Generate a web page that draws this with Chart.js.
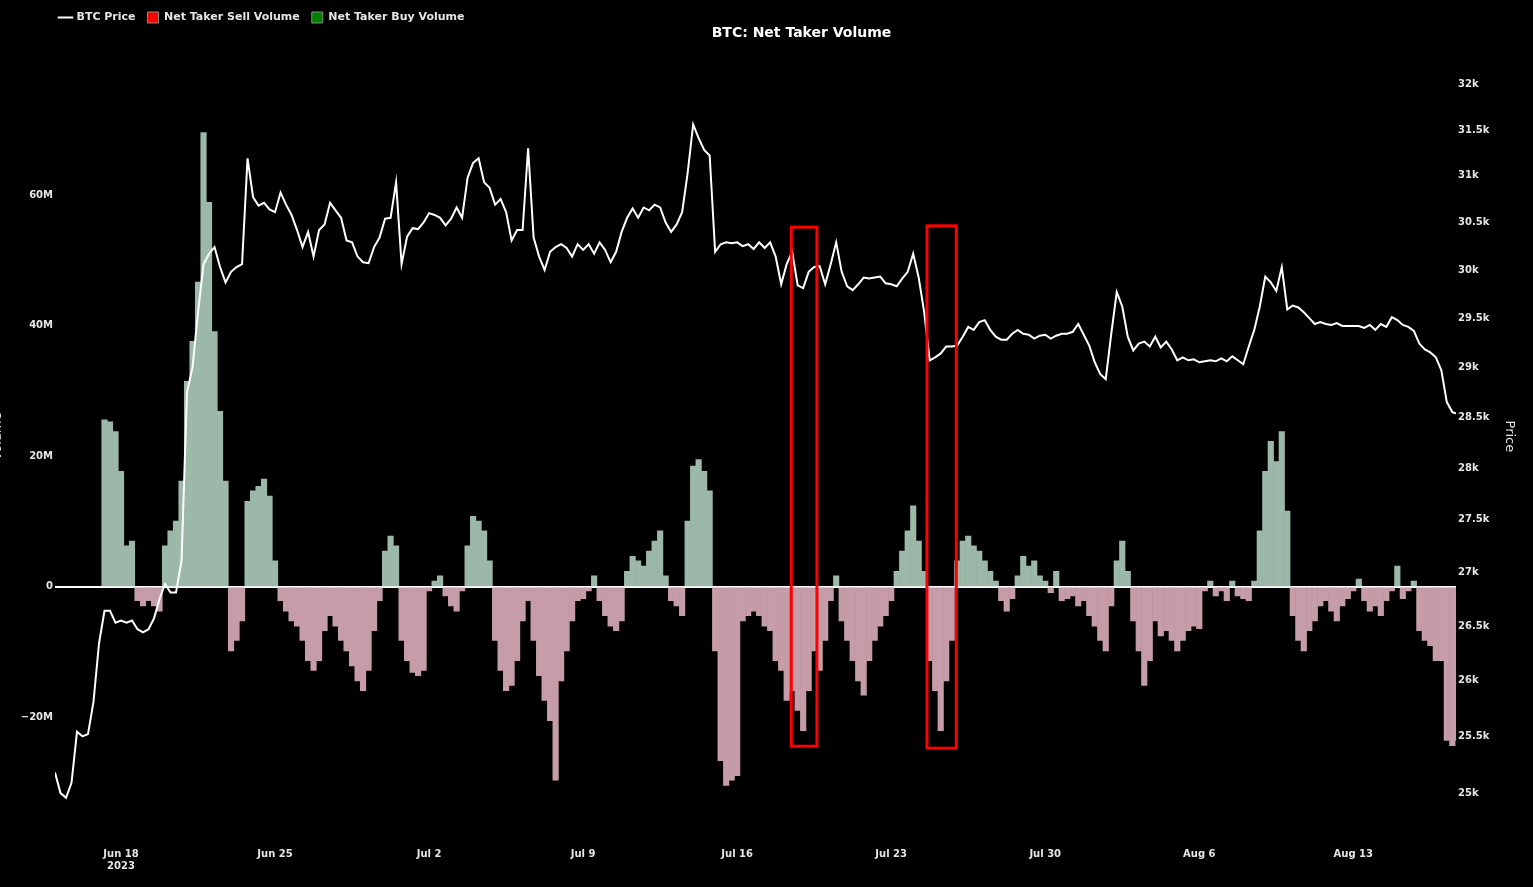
<!DOCTYPE html>
<html>
<head>
<meta charset="utf-8">
<script src="https://cdn.jsdelivr.net/npm/chart.js@4"></script>
<style>
  html, body { margin: 0; padding: 0; background: #000; }
  #wrap { width: 1533px; height: 887px; }
</style>
</head>
<body>
<div id="wrap"><canvas id="netTakerChart" width="1533" height="887"></canvas></div>
<script>
  // 6-hour samples starting Jun 15 2023 00:00 (x in hours)
  var stepHours = 6;
  var btcPrice = [25.18,25.0,24.96,25.09,25.54,25.50,25.52,25.81,26.34,26.64,26.64,26.53,26.55,26.53,26.55,26.47,26.44,26.47,26.57,26.75,
    26.89,26.81,26.81,27.11,28.75,29.0,29.56,30.06,30.17,30.24,30.03,29.87,29.98,30.03,30.06,31.19,30.77,30.68,30.71,30.64,
    30.61,30.82,30.69,30.58,30.42,30.24,30.40,30.14,30.42,30.48,30.71,30.63,30.55,30.31,30.29,30.14,30.08,30.07,30.24,30.34,
    30.54,30.55,30.93,30.06,30.35,30.44,30.43,30.50,30.60,30.58,30.55,30.47,30.54,30.66,30.55,30.98,31.14,31.19,30.93,30.87,
    30.69,30.75,30.61,30.31,30.42,30.42,31.30,30.34,30.14,30.0,30.19,30.24,30.27,30.23,30.14,30.27,30.21,30.27,30.17,30.29,
    30.21,30.08,30.19,30.40,30.55,30.65,30.55,30.66,30.63,30.69,30.66,30.50,30.40,30.48,30.61,31.03,31.56,31.41,31.28,31.22,
    30.19,30.27,30.29,30.28,30.29,30.25,30.27,30.22,30.29,30.23,30.29,30.14,29.85,30.06,30.19,29.84,29.81,29.98,30.03,30.04,
    29.85,30.06,30.29,29.98,29.83,29.79,29.85,29.92,29.91,29.92,29.93,29.86,29.85,29.83,29.91,29.98,30.17,29.92,29.56,29.07,
    29.10,29.14,29.21,29.21,29.22,29.31,29.41,29.38,29.46,29.48,29.38,29.31,29.28,29.28,29.34,29.38,29.34,29.33,29.29,29.32,
    29.33,29.29,29.32,29.34,29.34,29.36,29.44,29.33,29.22,29.05,28.93,28.88,29.34,29.77,29.62,29.31,29.17,29.24,29.26,29.21,
    29.31,29.20,29.26,29.18,29.07,29.10,29.07,29.08,29.05,29.06,29.07,29.06,29.09,29.06,29.11,29.07,29.03,29.21,29.38,29.62,
    29.93,29.87,29.78,30.03,29.59,29.63,29.61,29.56,29.50,29.44,29.46,29.44,29.43,29.45,29.42,29.42,29.42,29.42,29.40,29.43,
    29.38,29.44,29.41,29.51,29.48,29.43,29.41,29.37,29.24,29.18,29.15,29.10,28.97,28.65,28.55,28.53];
  // net taker volume, millions (buy > 0, sell < 0)
  var netVolume = [0,0,0,0,0,0,0,0,0,25.6,25.3,23.8,17.7,6.3,7.0,-2.1,-2.9,-2.1,-2.9,-3.7,
    6.3,8.6,10.1,16.2,31.5,37.6,46.7,69.6,58.9,39.1,26.9,16.2,-9.8,-8.2,-5.2,13.1,14.7,15.4,16.5,13.9,
    4.0,-2.1,-3.7,-5.2,-6.0,-8.2,-11.3,-12.8,-11.3,-6.7,-4.4,-6.0,-8.2,-9.8,-12.1,-14.4,-15.9,-12.8,-6.7,-2.1,
    5.5,7.8,6.3,-8.2,-11.3,-13.1,-13.6,-12.8,-0.6,0.9,1.7,-1.4,-2.9,-3.7,-0.6,6.3,10.8,10.1,8.6,4.0,
    -8.2,-12.8,-15.9,-15.1,-11.3,-5.2,-2.1,-8.2,-13.6,-17.4,-20.5,-29.6,-14.4,-9.8,-5.2,-2.1,-1.8,-0.6,1.7,-2.1,
    -4.4,-6.0,-6.7,-5.2,2.4,4.7,4.0,3.2,5.5,7.0,8.6,1.7,-2.1,-2.9,-4.4,10.1,18.5,19.5,17.7,14.7,
    -9.8,-26.6,-30.4,-29.6,-28.9,-5.2,-4.4,-3.7,-4.4,-6.0,-6.7,-11.3,-12.8,-17.4,-15.9,-18.9,-22.0,-15.9,-9.8,-12.8,
    -8.2,-2.1,1.7,-5.2,-8.2,-11.3,-14.4,-16.6,-11.3,-8.2,-6.0,-4.4,-2.1,2.4,5.5,8.6,12.4,7.0,2.4,-11.3,
    -15.9,-22.0,-14.4,-8.2,4.0,7.0,7.8,6.3,5.5,4.0,2.4,0.9,-2.1,-3.7,-1.8,1.7,4.7,3.2,4.0,1.7,
    0.9,-0.9,2.4,-2.1,-1.8,-1.4,-2.9,-2.1,-4.4,-6.0,-8.2,-9.8,-2.9,4.0,7.0,2.4,-5.2,-9.8,-15.1,-11.3,
    -5.2,-7.5,-6.7,-8.2,-9.8,-8.2,-6.7,-6.0,-6.4,-0.6,0.9,-1.4,-0.6,-2.1,0.9,-1.4,-1.8,-2.1,0.9,8.6,
    17.7,22.3,19.2,23.8,11.6,-4.4,-8.2,-9.8,-6.7,-5.2,-2.9,-2.1,-3.7,-5.2,-2.9,-1.8,-0.6,1.2,-2.1,-3.7,
    -2.9,-4.4,-2.1,-0.6,3.2,-1.8,-0.6,0.9,-6.7,-8.2,-9.0,-11.3,-11.3,-23.5,-24.3,-23.5];
  var tickHours = [72, 240, 408, 576, 744, 912, 1080, 1248, 1416];
  var tickLabels = [['Jun 18', '2023'], 'Jun 25', 'Jul 2', 'Jul 9', 'Jul 16', 'Jul 23', 'Jul 30', 'Aug 6', 'Aug 13'];
  var priceTicks = [25000, 25500, 26000, 26500, 27000, 27500, 28000, 28500, 29000, 29500, 30000, 30500, 31000, 31500, 32000];
  // highlighted windows: [startHour, endHour, topM, bottomM]
  var boxStart = [803, 951];
  var boxEnd = [831, 983];
  var boxTop = [55.1, 55.3];
  var boxBottom = [-24.4, -24.7];

  var pricePts = btcPrice.map(function (v, i) { return { x: i * stepHours, y: v * 1000 }; });
  var sellPts = netVolume.map(function (v, i) { return { x: i * stepHours, y: v < 0 ? v * 1e6 : null }; });
  var buyPts = netVolume.map(function (v, i) { return { x: i * stepHours, y: v > 0 ? v * 1e6 : null }; });

  var font = "'DejaVu Sans', Verdana, sans-serif";
  Chart.defaults.font.family = font;
  Chart.defaults.color = '#e6e6e6';

  var boxesPlugin = {
    id: 'boxes',
    afterLayout: function (chart) {
      // legend sits a bit in from the left edge, title centred a little right
      chart.legend.left += 48;
      chart.legend.right += 48;
      chart.titleBlock.left += 35;
      chart.titleBlock.right += 35;
    },
    afterDatasetsDraw: function (chart) {
      var ctx = chart.ctx, xs = chart.scales.x, ys = chart.scales.yVol;
      ctx.save();
      ctx.strokeStyle = '#ff0000';
      ctx.lineWidth = 3;
      for (var i = 0; i < boxStart.length; i++) {
        var x1 = xs.getPixelForValue(boxStart[i]), x2 = xs.getPixelForValue(boxEnd[i]);
        var y1 = ys.getPixelForValue(boxTop[i] * 1e6), y2 = ys.getPixelForValue(boxBottom[i] * 1e6);
        ctx.strokeRect(x1, y1, x2 - x1, y2 - y1);
      }
      // left axis title, partly off the canvas as in the source
      ctx.fillStyle = '#e6e6e6';
      ctx.font = '13px ' + font;
      ctx.translate(-2, (chart.chartArea.top + chart.chartArea.bottom) / 2);
      ctx.rotate(-Math.PI / 2);
      ctx.textAlign = 'center';
      ctx.textBaseline = 'middle';
      ctx.fillText('Volume', 0, 0);
      ctx.restore();
    }
  };

  var config = {
    data: {
      datasets: [{
        type: 'line',
        label: 'BTC Price',
        data: pricePts,
        yAxisID: 'yPrice',
        borderColor: '#ffffff',
        backgroundColor: '#ffffff',
        borderWidth: 2,
        pointRadius: 0,
        pointStyle: 'line',
        tension: 0,
        order: 0
      }, {
        type: 'bar',
        label: 'Net Taker Sell Volume',
        data: sellPts,
        yAxisID: 'yVol',
        backgroundColor: '#c59ca7',
        barPercentage: 1,
        categoryPercentage: 1,
        grouped: false,
        pointStyle: 'rect',
        order: 1
      }, {
        type: 'bar',
        label: 'Net Taker Buy Volume',
        data: buyPts,
        yAxisID: 'yVol',
        backgroundColor: '#9cb8a8',
        barPercentage: 1,
        categoryPercentage: 1,
        grouped: false,
        pointStyle: 'rect',
        order: 1
      }]
    },
    options: {
      responsive: false,
      animation: false,
      layout: { padding: { top: 0, right: 0, bottom: 0, left: 0 } },
      plugins: {
        legend: {
          position: 'top',
          align: 'start',
          weight: 3000,
          labels: {
            usePointStyle: true,
            boxWidth: 11,
            boxHeight: 11,
            padding: 12,
            font: { size: 11, weight: 'bold' },
            generateLabels: function (chart) {
              var fills = ['#ffffff', '#ff0000', '#008000'];
              return chart.data.datasets.map(function (ds, i) {
                return {
                  text: ds.label,
                  fillStyle: fills[i],
                  strokeStyle: i == 0 ? '#ffffff' : '#888888',
                  lineWidth: i == 0 ? 2 : 1,
                  pointStyle: ds.pointStyle,
                  fontColor: '#e6e6e6',
                  datasetIndex: i
                };
              });
            }
          }
        },
        title: {
          display: true,
          text: 'BTC: Net Taker Volume',
          color: '#ffffff',
          weight: 500,
          font: { size: 14, weight: 'bold' },
          padding: { top: -8, bottom: 11 }
        },
        tooltip: { enabled: false }
      },
      scales: {
        x: {
          type: 'linear',
          min: 0,
          max: 1528,
          offset: false,
          grid: { display: false },
          border: { display: false },
          afterBuildTicks: function (scale) {
            scale.ticks = tickHours.map(function (h) { return { value: h }; });
          },
          afterFit: function (scale) { scale.height = 67; },
          ticks: {
            padding: 20,
            maxRotation: 0,
            font: { size: 10, weight: 'bold' },
            callback: function (value) {
              var i = tickHours.indexOf(value);
              return i >= 0 ? tickLabels[i] : '';
            }
          }
        },
        yVol: {
          type: 'linear',
          position: 'left',
          min: -35.7e6,
          max: 81.8e6,
          afterBuildTicks: function (scale) {
            scale.ticks = [-20e6, 0, 20e6, 40e6, 60e6].map(function (v) { return { value: v }; });
          },
          afterFit: function (scale) { scale.width = 55; },
          border: { display: false },
          grid: {
            drawTicks: false,
            lineWidth: 2,
            color: function (c) { return c.tick && c.tick.value === 0 ? '#ffffff' : 'rgba(0,0,0,0)'; }
          },
          ticks: {
            padding: 2,
            font: { size: 10, weight: 'bold' },
            callback: function (v) { return v === 0 ? '0' : (v < 0 ? '\u2212' : '') + Math.abs(v / 1e6) + 'M'; }
          }
        },
        yPrice: {
          type: 'logarithmic',
          position: 'right',
          min: 24767,
          max: 32358,
          afterBuildTicks: function (scale) {
            scale.ticks = priceTicks.map(function (v) { return { value: v }; });
          },
          afterFit: function (scale) { scale.width = 77; },
          border: { display: false },
          grid: { display: false, drawTicks: false },
          title: { display: true, text: 'Price', font: { size: 13 }, padding: { top: 16, bottom: 16 } },
          ticks: {
            padding: 2,
            font: { size: 10, weight: 'bold' },
            callback: function (v) { return (v / 1000) + 'k'; }
          }
        }
      }
    },
    plugins: [boxesPlugin]
  };

  var ctx = document.getElementById('netTakerChart').getContext('2d');
  window.netTakerChart = new Chart(ctx, config);
</script>
</body>
</html>
